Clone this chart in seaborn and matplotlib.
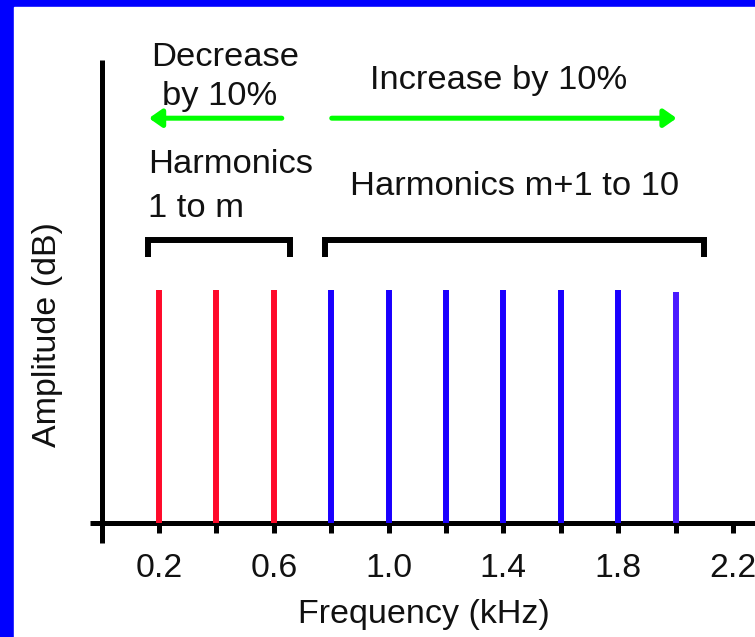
import matplotlib
matplotlib.use("Agg")
import matplotlib.pyplot as plt
import matplotlib.patches as mpatches
import seaborn as sns

# harmonic frequencies (kHz) and their amplitudes
freqs = [0.2, 0.4, 0.6, 0.8, 1.0, 1.2, 1.4, 1.6, 1.8, 2.0]
amps = [1.0, 1.0, 1.0, 1.0, 1.0, 1.0, 1.0, 1.0, 1.0, 0.99]
colors = ["#ff0a2a"] * 3 + ["#1a00ff"] * 6 + ["#4a1aff"]

tick_pos = [0.2, 0.4, 0.6, 0.8, 1.0, 1.2, 1.4, 1.6, 1.8, 2.0, 2.2]
tick_labels = ["0.2", "", "0.6", "", "1.0", "", "1.4", "", "1.8", "", "2.2"]

sns.set_theme(style="white")
plt.rcParams["font.family"] = ["Liberation Sans", "DejaVu Sans"]

fig = plt.figure(figsize=(7.55, 6.37), dpi=100)
fig.patch.set_facecolor("#0000ff")
fig.patches.append(mpatches.Rectangle((13.5 / 755, 0), 1, (637 - 7) / 637,
                                      transform=fig.transFigure, color="white",
                                      zorder=-1))

ax = fig.add_axes([90 / 755, 94 / 637, 665 / 755, 483 / 637])
ax.set_facecolor("none")

ax.vlines(freqs, 0, amps, colors=colors, lw=4.3, zorder=3)

ax.set_xlim(-0.0404, 2.277)
ax.set_ylim(-0.087, 1.988)

for side in ["top", "right"]:
    ax.spines[side].set_visible(False)
for side in ["left", "bottom"]:
    ax.spines[side].set_position(("data", 0))
    ax.spines[side].set_linewidth(3.6)
    ax.spines[side].set_color("black")
    ax.spines[side].set_capstyle("butt")

ax.set_xticks(tick_pos)
ax.set_xticklabels(tick_labels, fontsize=24.3, color="#111111")
ax.set_yticks([])
ax.tick_params(axis="x", direction="out", length=7, width=3.6, color="black",
               pad=15, bottom=True)

ax.set_xlabel("Frequency (kHz)", fontsize=24.5, color="#111111")
ax.xaxis.set_label_coords(0.5015, -0.115)
ax.set_ylabel("Amplitude (dB)", fontsize=24.5, color="#111111")
ax.yaxis.set_label_coords(-0.040, 0.4306)

# brackets over the two groups of harmonics
for x0, x1 in [(0.162, 0.657), (0.779, 2.100)]:
    ax.plot([x0, x0, x1, x1], [1.142, 1.216, 1.216, 1.142], color="black",
            lw=4.3, solid_joinstyle="miter", solid_capstyle="butt", clip_on=False)

# green arrows
arrow = dict(arrowstyle="-|>,head_length=0.5,head_width=0.35", color="#00ff00",
             lw=3.6, mutation_scale=15, shrinkA=0, shrinkB=0)
ax.annotate("", xy=(0.165, 1.738), xytext=(0.628, 1.738), arrowprops=arrow,
            annotation_clip=False)
ax.annotate("", xy=(2.004, 1.738), xytext=(0.802, 1.738), arrowprops=arrow,
            annotation_clip=False)

txt = dict(fontsize=24.8, color="#111111", va="baseline", clip_on=False)
ax.text(0.430, 1.962, "Decrease", ha="center", **txt)
ax.text(0.413, 1.795, "by 10%", ha="center", **txt)
ax.text(1.383, 1.864, "Increase by 10%", ha="center", **txt)
ax.text(0.162, 1.502, "Harmonics", ha="left", **txt)
ax.text(0.162, 1.314, "1 to m", ha="left", **txt)
ax.text(0.866, 1.408, "Harmonics m+1 to 10", ha="left", **txt)

fig.savefig("out.png", dpi=100, facecolor=fig.get_facecolor())
